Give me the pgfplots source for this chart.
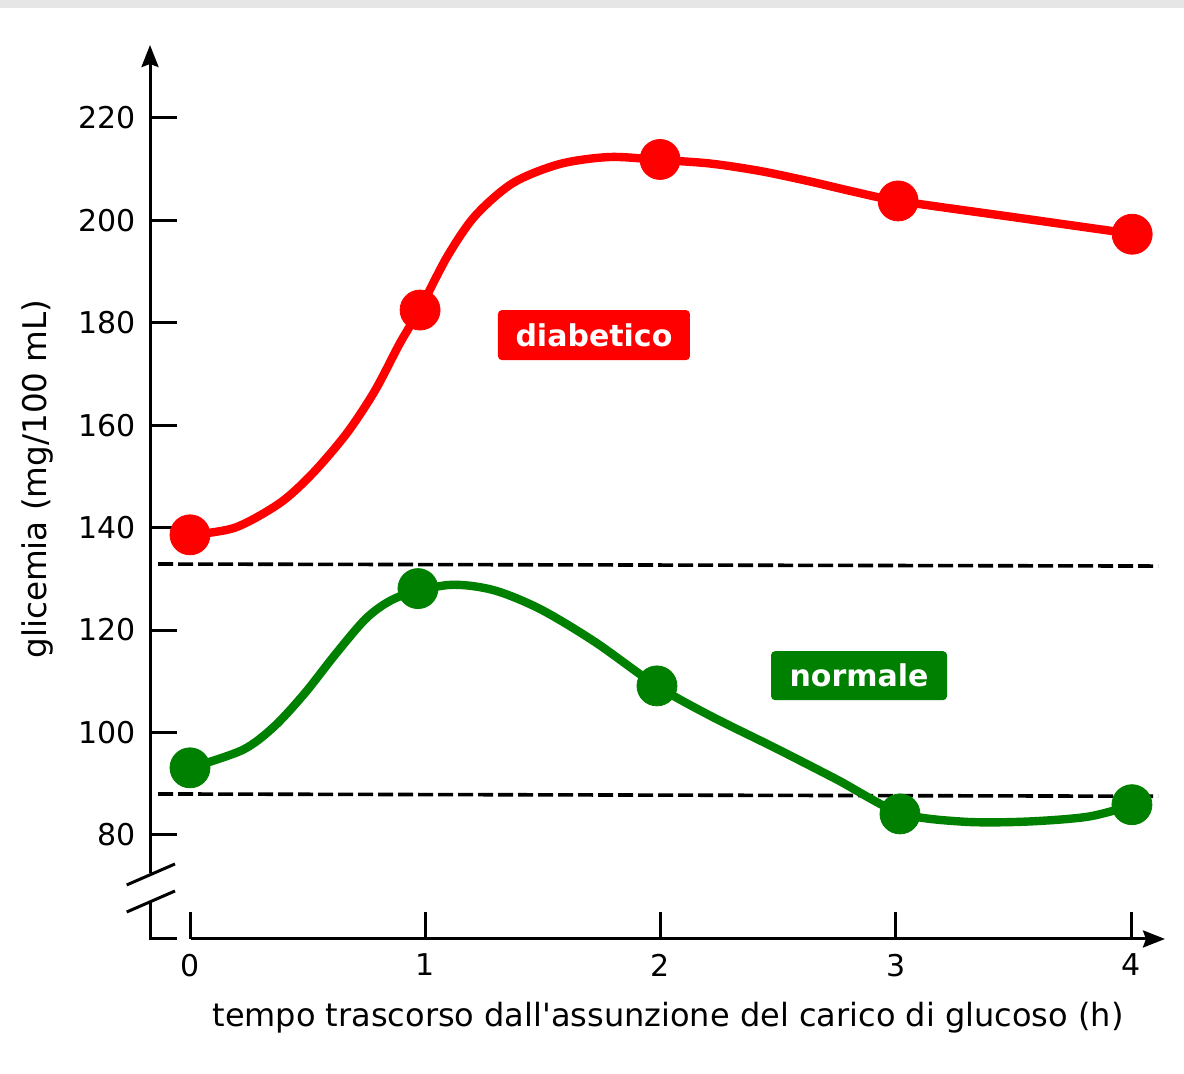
\documentclass[border=0pt]{standalone}
\usepackage{fontspec}
\setmainfont{DejaVu Sans}
\usepackage{pgfplots}
\pgfplotsset{compat=1.18}
\usetikzlibrary{arrows.meta}
\definecolor{dred}{RGB}{255,0,0}
\definecolor{dgreen}{RGB}{0,128,0}
\definecolor{topbar}{HTML}{E6E6E6}
\begin{document}
\begin{tikzpicture}
\begin{axis}[
  x=117.625bp, y=2.5605bp,
  xmin=-0.17, xmax=4.1445, ymin=59.68, ymax=234.25,
  axis x line*=bottom, axis y line*=left,
  axis line style={draw=none},
  clip=false,
  xtick={0,1,2,3,4}, ytick={80,100,...,220},
  tick align=inside,
  major tick length=13.5bp,
  tick style={black, line width=1.5bp},
  font=\fontsize{15bp}{18bp}\selectfont,
  /pgf/number format/assume math mode=true,
  yticklabel style={xshift=-3.5bp},
  xticklabel style={yshift=-4bp},
  xlabel={tempo trascorso dall\textquotesingle assunzione del carico di glucoso (h)},
  ylabel={glicemia (mg/100 mL)},
  every axis x label/.style={at={(axis description cs:0.5103,-0.0884)}, anchor=center, font=\fontsize{16bp}{19bp}\selectfont},
  every axis y label/.style={at={(axis description cs:-0.1113,0.5145)}, anchor=center, rotate=90, font=\fontsize{16.3bp}{19bp}\selectfont},
]
% bounding box corners and top bar
\coordinate (tl) at (axis cs:-0.8077,243.04);
\coordinate (br) at (axis cs:4.2253,33.32);
\fill[topbar] (axis cs:-0.8077,243.04) rectangle (axis cs:4.2253,241.48);

% axes
\draw[line width=1.5bp, -{Stealth[length=11bp,width=8.5bp,inset=1.5bp]}] (axis cs:-0.17,72.57) -- (axis cs:-0.17,234.25);
\draw[line width=1.5bp] (axis cs:-0.17,66.9) |- (axis cs:-0.0553,59.68);
\draw[line width=1.5bp, -{Stealth[length=11bp,width=8.5bp,inset=1.5bp]}] (axis cs:0.00425,59.68) -- (axis cs:4.1445,59.68);
\draw[line width=1.5bp] (axis cs:-0.269,70.23) -- (axis cs:-0.0638,74.33);
\draw[line width=1.5bp] (axis cs:-0.269,64.95) -- (axis cs:-0.0638,69.05);

% reference dashed lines
\addplot[black, line width=1.8bp, dash pattern=on 7.5bp off 2.5bp] coordinates {(-0.136,132.9) (4.115,132.5)};
\addplot[black, line width=1.8bp, dash pattern=on 7.5bp off 2.5bp] coordinates {(-0.136,88.0) (4.115,87.55)};

% diabetic curve
\addplot[dred, line width=4.2bp, smooth] coordinates {
 (0,138.57) (0.1913,140.0) (0.3826,144.82) (0.5229,150.68) (0.6674,158.49)
 (0.7864,166.77) (0.8927,176.06) (0.9777,182.70) (1.0925,192.86) (1.2115,200.86)
 (1.3730,207.31) (1.5728,211.02) (1.7853,212.38) (1.9979,211.80) (2.2104,211.11)
 (2.4229,209.65) (2.6355,207.60) (2.8268,205.55) (3.0138,203.79) (3.5112,200.57)
 (4.0085,197.35)};
\addplot[only marks, mark=*, mark size=10bp, mark options={draw=dred, fill=dred}] coordinates {
 (0,138.6) (0.978,182.5) (1.998,211.9) (3.01,203.8) (4.005,197.3)};

% normal curve
\addplot[dgreen, line width=4.2bp, smooth] coordinates {
 (0,93.07) (0.2236,96.59) (0.3571,101.14) (0.4889,107.72) (0.6227,115.53)
 (0.7566,122.62) (0.8884,126.52) (1.1010,128.81) (1.2880,127.83) (1.4878,124.12)
 (1.7216,117.68) (1.9851,109.08) (2.2189,103.09) (2.4867,97.0) (2.7503,90.8)
 (3.0181,84.29) (3.2842,82.59) (3.5494,82.59) (3.8172,83.56) (4.0085,85.85)};
\addplot[only marks, mark=*, mark size=10bp, mark options={draw=dgreen, fill=dgreen}] coordinates {
 (0,93.1) (0.969,128.1) (1.985,109.1) (3.018,84.1) (4.004,85.9)};

% labels
\node[fill=dred, text=white, font=\fontsize{15bp}{18bp}\selectfont\bfseries, minimum width=96bp, minimum height=25bp, rounded corners=2bp, inner sep=0pt] at (axis cs:1.717,177.6) {diabetico};
\node[fill=dgreen, text=white, font=\fontsize{15bp}{18bp}\selectfont\bfseries, minimum width=88bp, minimum height=24.5bp, rounded corners=2bp, inner sep=0pt] at (axis cs:2.844,111.1) {normale};
\end{axis}
\pgfresetboundingbox
\path[use as bounding box] (tl) rectangle (br);
\end{tikzpicture}
\end{document}
